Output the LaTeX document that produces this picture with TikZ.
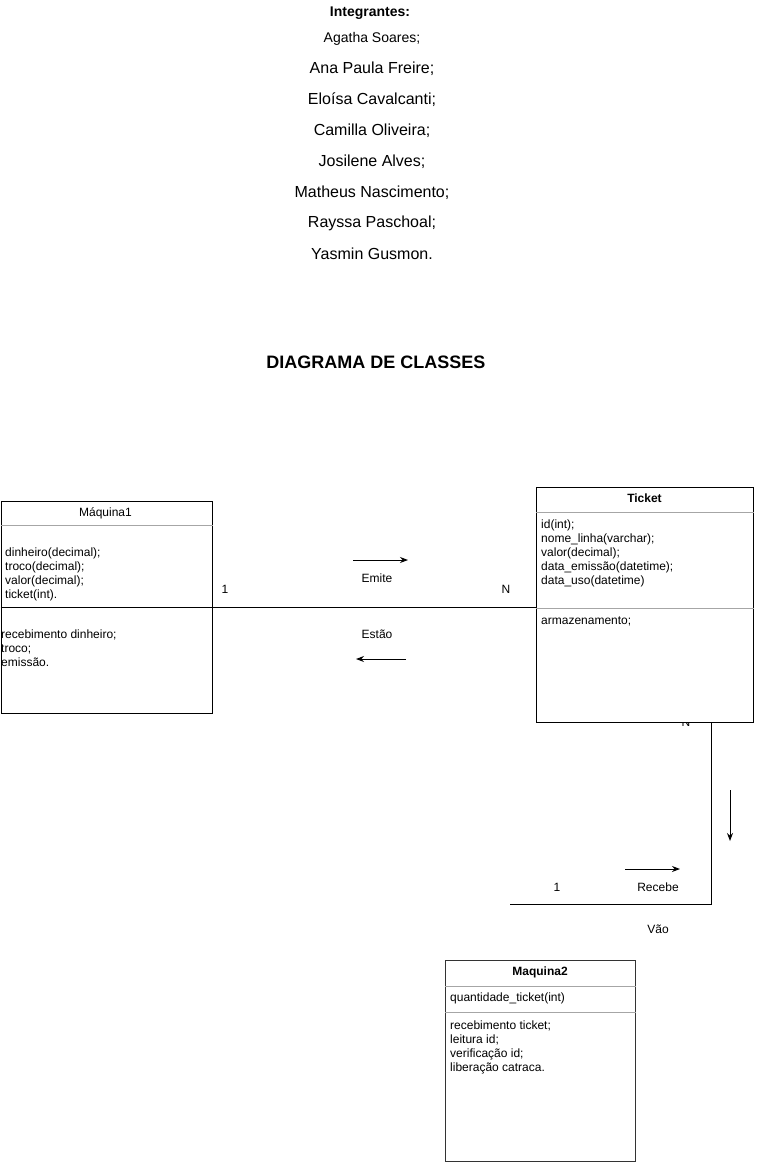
\documentclass[tikz,border=0pt]{standalone}
\usepackage{fontspec}
\setmainfont{Liberation Sans}
\usetikzlibrary{arrows.meta}
\newcommand{\firstline}{\rule{0pt}{10pt}}
\begin{document}
\begin{tikzpicture}[x=1pt,y=-1pt,
  box/.style={draw=black,line width=1pt,fill=white,inner sep=0pt,anchor=north west},
  div/.style={line width=1pt,draw=black!35},
  divk/.style={line width=1pt,draw=black},
  tx/.style={font=\fontsize{12}{14}\selectfont,inner sep=0pt},
  txb/.style={font=\fontsize{12}{14}\selectfont\bfseries,inner sep=0pt},
  lst/.style={tx,align=left,anchor=north west},
  namebig/.style={font=\fontsize{16}{18}\selectfont,inner sep=0pt},
  conn/.style={line width=1pt,draw=black},
  smallarrow/.style={-{Stealth[length=8pt,width=6pt]},line width=1pt}
]
\useasboundingbox[fill=white] (0,0) rectangle (756,1162);

% members list
\node[font=\fontsize{14}{16}\selectfont\bfseries,inner sep=0pt] (hdr) at (370,13) {Integrantes:};
\node[font=\fontsize{14}{16}\selectfont,inner sep=0pt] (n1) at (372,39) {Agatha Soares;};
\node[namebig] (n2) at (372,69) {Ana Paula Freire;};
\node[namebig] (n3) at (372,100) {Eloísa Cavalcanti;};
\node[namebig] (n4) at (372,131) {Camilla Oliveira;};
\node[namebig] (n5) at (372,162) {Josilene Alves;};
\node[namebig] (n6) at (372,193) {Matheus Nascimento;};
\node[namebig] (n7) at (372,223) {Rayssa Paschoal;};
\node[namebig] (n8) at (372,254) {Yasmin Gusmon.};

\node[font=\fontsize{18}{20}\selectfont\bfseries,inner sep=0pt] (title) at (376,362) {DIAGRAMA DE CLASSES};

% label partly hidden under Ticket box
\node[tx] (nB) at (686,722) {N};

% Maquina1
\node[box,minimum width=211pt,minimum height=212pt] (m1) at (0.5,500.5) {};
\node[tx] (m1h) at (105.5,513) {Máquina1};
\draw[div] (m1.west |- 0,525) -- (m1.east |- 0,525);
\draw[divk] (m1.west |- 0,607) -- (m1.east |- 0,607);
\node[lst] (m1a) at (5,546.5) {\firstline dinheiro(decimal);\\troco(decimal);\\valor(decimal);\\ticket(int).};
\node[lst] (m1m) at (1,628.5) {\firstline recebimento dinheiro;\\troco;\\emissão.};

% Ticket
\node[box,minimum width=217pt,minimum height=235pt] (tk) at (536,487) {};
\node[txb] (tkh) at (644.5,498) {Ticket};
\draw[div] (tk.west |- 0,512) -- (tk.east |- 0,512);
\draw[div] (tk.west |- 0,608) -- (tk.east |- 0,608);
\node[lst] (tka) at (541,518.5) {\firstline id(int);\\nome\_linha(varchar);\\valor(decimal);\\data\_emissão(datetime);\\data\_uso(datetime)};
\node[lst] (tkm) at (541,614.5) {\firstline armazenamento;};

% Maquina2
\node[box,draw=black!80,minimum width=190pt,minimum height=201pt] (m2) at (445,960) {};
\node[txb] (m2h) at (540,972) {Maquina2};
\draw[div] (m2.west |- 0,986) -- (m2.east |- 0,986);
\draw[div] (m2.west |- 0,1012) -- (m2.east |- 0,1012);
\node[tx,anchor=west] (m2a) at (450,998) {quantidade\_ticket(int)};
\node[lst] (m2m) at (450,1019.5) {\firstline recebimento ticket;\\leitura id;\\verificação id;\\liberação catraca.};

% connector Maquina1 - Ticket
\draw[conn] (m1.east) -- (m1.east -| tk.west);
\node[tx] (l1) at (225,589) {1};
\node[tx] (lN) at (506,589) {N};
\node[tx] (emite) at (377,578) {Emite};
\node[tx] (estao) at (377,634) {Estão};
\coordinate (ea1) at (353,560);
\coordinate (ea2) at (408,560);
\draw[smallarrow] (ea1) -- (ea2);
\coordinate (sa1) at (406,659);
\coordinate (sa2) at (356,659);
\draw[smallarrow] (sa1) -- (sa2);

% connector Ticket - Maquina2
\coordinate (tkb) at ([xshift=-42.5pt]tk.south east);
\coordinate (freeend) at (510,904);
\draw[conn] (tkb) |- (freeend);
\node[tx] (l1b) at (557,887) {1};
\node[tx] (recebe) at (658,887) {Recebe};
\node[tx] (vao) at (658,929) {Vão};
\coordinate (ra1) at (625,869);
\coordinate (ra2) at (680,869);
\draw[smallarrow] (ra1) -- (ra2);
\coordinate (va1) at (730,790);
\coordinate (va2) at (730,841);
\draw[smallarrow] (va1) -- (va2);
\end{tikzpicture}
\end{document}
